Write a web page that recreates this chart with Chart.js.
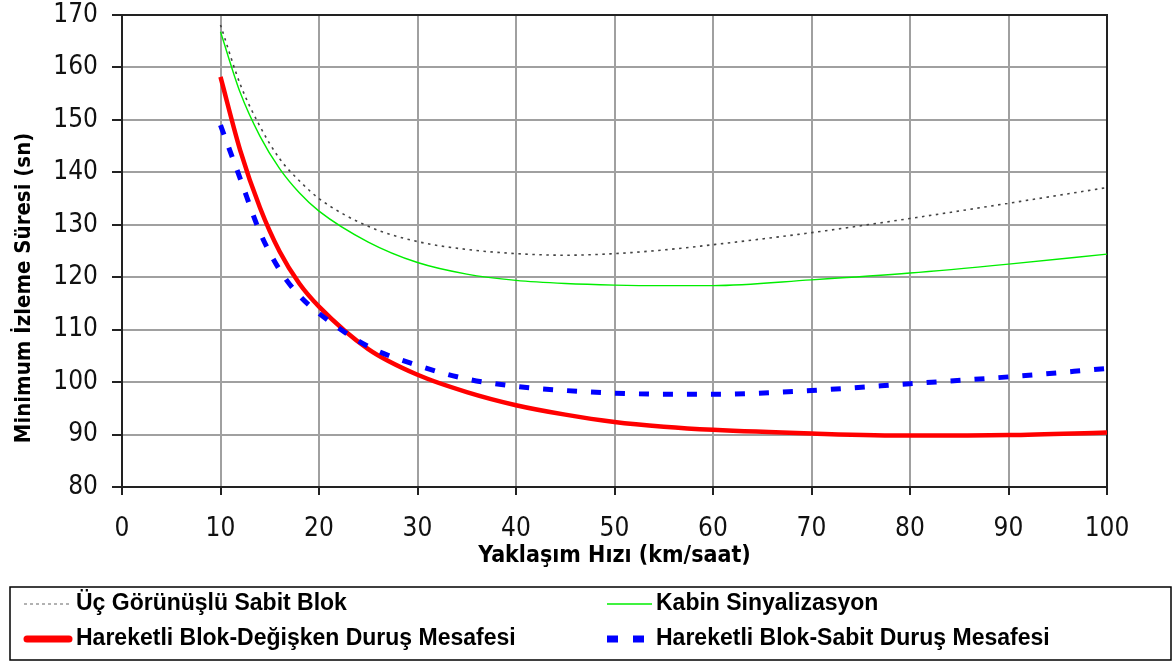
<!DOCTYPE html>
<html>
<head>
<meta charset="utf-8">
<style>
  html, body { margin: 0; padding: 0; background: #fff; }
  #wrap { width: 1176px; height: 662px; }
</style>
<script src="https://cdn.jsdelivr.net/npm/chart.js@4.4.1/dist/chart.umd.min.js"></script>
</head>
<body>
<div id="wrap"><canvas id="hiz-chart" width="1176" height="662"></canvas></div>
<script>
// yaklaşım hızı (km/saat)
const speeds = [10, 12, 14, 16, 18, 20, 25, 30, 35, 40, 45, 50, 55, 60, 70, 80, 90, 100];

// minimum izleme süresi (sn)
const ucGorunuslu   = [168.1, 156.8, 148.8, 142.6, 138.4, 135.0, 129.7, 126.8, 125.3, 124.5, 124.2, 124.5, 125.2, 126.2, 128.5, 131.2, 134.1, 137.1];
const kabin         = [166.8, 155.2, 146.9, 140.7, 136.1, 132.6, 126.7, 122.8, 120.6, 119.4, 118.8, 118.5, 118.4, 118.4, 119.5, 120.8, 122.5, 124.4];
const degiskenDurus = [158.2, 144.2, 133.3, 124.9, 118.8, 114.4, 106.3, 101.4, 98.1, 95.6, 93.8, 92.4, 91.5, 90.9, 90.2, 89.8, 89.9, 90.4];
const sabitDurus    = [149.0, 138.8, 128.6, 121.4, 116.5, 113.1, 106.8, 103.2, 100.6, 99.2, 98.4, 97.9, 97.7, 97.7, 98.4, 99.7, 101.0, 102.6];

const seriesNames = [
  'Üç Görünüşlü Sabit Blok',
  'Kabin Sinyalizasyon',
  'Hareketli Blok-Değişken Duruş Mesafesi',
  'Hareketli Blok-Sabit Duruş Mesafesi'
];

const xMin = 0, xMax = 100, xStep = 10;
const yMin = 80, yMax = 170, yStep = 10;
const xTitle = 'Yaklaşım Hızı (km/saat)';
const yTitle = 'Minimum İzleme Süresi (sn)';

const axisFont = "'DejaVu Sans Condensed', 'DejaVu Sans', sans-serif";
const legendFont = "'Liberation Sans', Arial, sans-serif";

function pts(vals) {
  return speeds.map((s, i) => ({ x: s, y: vals[i] }));
}

const datasets = [
  { label: seriesNames[0], data: pts(ucGorunuslu), borderColor: '#444444', borderWidth: 1.6, borderDash: [2.5, 4.5], order: 2 },
  { label: seriesNames[1], data: pts(kabin), borderColor: '#00ee00', borderWidth: 1.4, borderDash: [], order: 3 },
  { label: seriesNames[2], data: pts(degiskenDurus), borderColor: '#ff0000', borderWidth: 4.5, borderDash: [], order: 1 },
  { label: seriesNames[3], data: pts(sabitDurus), borderColor: '#0000ff', borderWidth: 5, borderDash: [10, 14], order: 0 }
];
datasets.forEach(d => {
  d.pointRadius = 0;
  d.fill = false;
  d.cubicInterpolationMode = 'monotone';
  d.borderCapStyle = 'butt';
});

// legend sample look (index follows datasets)
const legendSamples = [
  { color: '#999999', width: 1.5, dash: [3, 3], cap: 'butt' },
  { color: '#00ee00', width: 1.5, dash: [], cap: 'butt' },
  { color: '#ff0000', width: 7, dash: [], cap: 'round' },
  { color: '#0000ff', width: 7, dash: [11, 15], cap: 'butt' }
];

// frame, y title and the boxed legend under the chart
const extras = {
  id: 'extras',
  beforeDatasetsDraw(chart) {
    const { ctx, chartArea: a } = chart;
    ctx.save();
    ctx.strokeStyle = '#222';
    ctx.lineWidth = 2;
    ctx.strokeRect(a.left, a.top, a.right - a.left, a.bottom - a.top);
    ctx.restore();
  },
  afterDraw(chart) {
    const ctx = chart.ctx;
    ctx.save();
    ctx.translate(24, 288);
    ctx.rotate(-Math.PI / 2);
    ctx.font = 'bold 22px ' + axisFont;
    ctx.fillStyle = '#000';
    ctx.textAlign = 'center';
    ctx.textBaseline = 'middle';
    ctx.fillText(yTitle, 0, 0);
    ctx.restore();

    ctx.save();
    ctx.strokeStyle = '#000';
    ctx.lineWidth = 1.5;
    ctx.strokeRect(10, 587, 1161, 73);
    const sampleX = [[24, 72], [607, 652]];
    const textX = [76, 656];
    const rowY = [604, 639];
    chart.data.datasets.forEach((ds, i) => {
      const col = i % 2, row = Math.floor(i / 2);
      const y = rowY[row];
      const s = legendSamples[i];
      ctx.beginPath();
      ctx.strokeStyle = s.color;
      ctx.lineWidth = s.width;
      ctx.setLineDash(s.dash);
      ctx.lineCap = s.cap;
      const x0 = sampleX[col][0] + (s.cap === 'round' ? 3 : 0);
      const x1 = sampleX[col][1] - (s.cap === 'round' ? 3 : 0);
      ctx.moveTo(x0, y);
      ctx.lineTo(x1, y);
      ctx.stroke();
      ctx.setLineDash([]);
      ctx.fillStyle = '#000';
      ctx.font = 'bold 23px ' + legendFont;
      ctx.textAlign = 'left';
      ctx.textBaseline = 'middle';
      ctx.fillText(ds.label, textX[col], y);
    });
    ctx.restore();
  }
};

new Chart(document.getElementById('hiz-chart'), {
  type: 'line',
  data: { datasets: datasets },
  options: {
    responsive: false,
    animation: false,
    layout: { padding: { left: 0, right: 69, top: 15, bottom: 88 } },
    plugins: { legend: { display: false }, tooltip: { enabled: false } },
    scales: {
      x: {
        type: 'linear',
        min: xMin, max: xMax,
        afterFit(scale) { scale.height = 87; },
        ticks: { stepSize: xStep, color: '#111', padding: 19, maxRotation: 0, font: { family: axisFont, size: 26 } },
        grid: { color: '#a0a0a0', lineWidth: 2, tickLength: 8, tickColor: '#222' },
        border: { color: '#222', width: 2 },
        title: { display: true, text: xTitle, color: '#000', padding: { top: 0, bottom: 4 }, font: { family: axisFont, size: 23, weight: 'bold' } }
      },
      y: {
        min: yMin, max: yMax,
        afterFit(scale) {
          scale.width = 122;
          scale.paddingTop = 0;
          scale.paddingBottom = 0;
        },
        ticks: { stepSize: yStep, color: '#111', padding: 14, font: { family: axisFont, size: 26 } },
        grid: { color: '#a0a0a0', lineWidth: 2, tickLength: 10, tickColor: '#222' },
        border: { color: '#222', width: 2 }
      }
    }
  },
  plugins: [extras]
});
</script>
</body>
</html>
